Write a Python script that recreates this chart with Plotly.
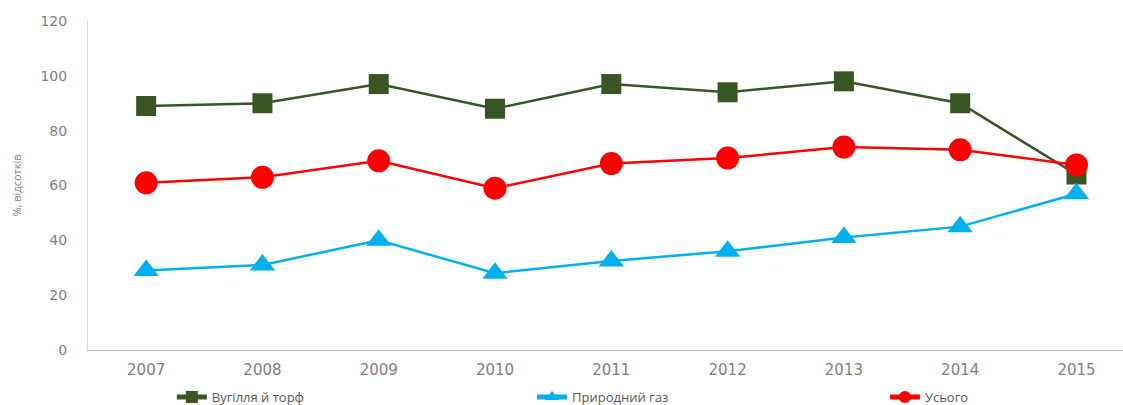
import plotly.graph_objects as go

years = ["2007", "2008", "2009", "2010", "2011", "2012", "2013", "2014", "2015"]
coal_peat = [89, 90, 97, 88, 97, 94, 98, 90, 64]
natural_gas = [29, 31, 40, 28, 32.5, 36, 41, 45, 57]
total = [61, 63, 69, 59, 68, 70, 74, 73, 67.5]

series_names = ["Вугілля й торф", "Природний газ", "Усього"]
y_title = "%, відсотків"
y_ticks = [0, 20, 40, 60, 80, 100, 120]

fig = go.Figure()
fig.add_trace(go.Scatter(
    x=years, y=coal_peat, name=series_names[0], mode="lines+markers",
    line=dict(color="#375623", width=2.5),
    marker=dict(symbol="square", size=20, color="#375623"),
    legend="legend",
))
fig.add_trace(go.Scatter(
    x=years, y=natural_gas, name=series_names[1], mode="lines+markers",
    line=dict(color="#00B0F0", width=2.5),
    marker=dict(symbol="triangle-up", size=22, color="#00B0F0"),
    legend="legend2",
))
fig.add_trace(go.Scatter(
    x=years, y=total, name=series_names[2], mode="lines+markers",
    line=dict(color="#FF0000", width=2.5),
    marker=dict(symbol="circle", size=23, color="#FF0000"),
    legend="legend3",
))

leg_common = dict(
    orientation="h", xanchor="left", y=-0.143, yanchor="middle",
    font=dict(size=13, color="#595959"), itemsizing="constant",
    bgcolor="rgba(0,0,0,0)",
)

fig.update_layout(
    width=1123, height=405,
    margin=dict(l=88, r=0, t=21, b=55, autoexpand=False),
    paper_bgcolor="white", plot_bgcolor="white",
    font=dict(family="Open Sans, DejaVu Sans, sans-serif", color="#7F7F7F"),
    showlegend=True,
    legend=dict(x=0.081, **leg_common),
    legend2=dict(x=0.429, **leg_common),
    legend3=dict(x=0.770, **leg_common),
    xaxis=dict(
        type="category", range=[-0.5, 8.4],
        showgrid=False, showline=True, linecolor="#BFBFBF", linewidth=1,
        ticks="", tickfont=dict(size=15, family="DejaVu Sans, sans-serif", color="#7F7F7F"),
        ticklabelstandoff=6,
        zeroline=False,
    ),
    yaxis=dict(
        range=[0, 120], tickvals=y_ticks,
        showgrid=False, showline=True, linecolor="#D9D9D9", linewidth=1,
        ticks="", tickfont=dict(size=14, family="DejaVu Sans, sans-serif", color="#7F7F7F"),
        ticklabelstandoff=17,
        zeroline=False,
        title=dict(text=y_title, font=dict(size=11, color="#7F7F7F"), standoff=16),
    ),
)

fig.write_html("out.html")
